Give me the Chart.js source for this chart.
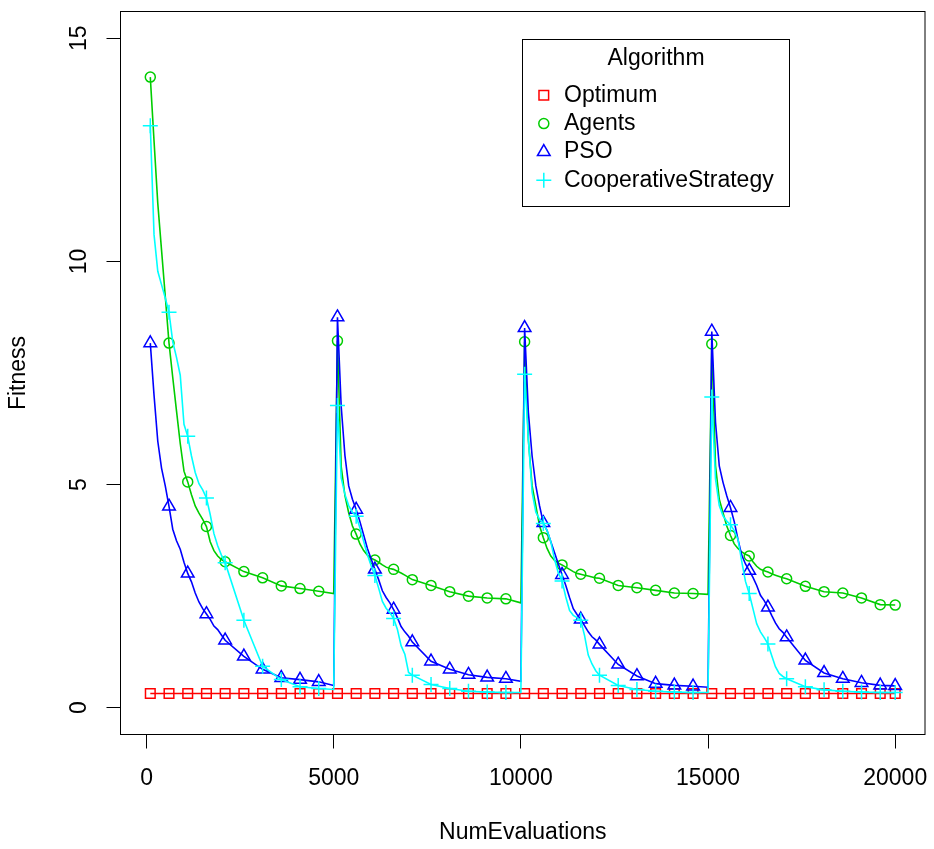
<!DOCTYPE html>
<html>
<head>
<meta charset="utf-8">
<script src="https://cdn.jsdelivr.net/npm/chart.js@4/dist/chart.umd.min.js"></script>
<style>
html,body{margin:0;padding:0;background:#fff;}
#wrap{width:934px;height:849px;position:relative;}
canvas{display:block;}
</style>
</head>
<body>
<div id="wrap"><canvas id="c" width="934" height="849"></canvas></div>
<script>
// ---------- data ----------
const evaluations = [
  100,200,300,400,500,600,700,800,900,1000,1100,1200,1300,1400,1500,1600,1700,1800,1900,2000,2100,2600,3100,3600,4100,4600,5000,
  5100,5200,5300,5400,5500,5600,5700,5800,5900,6000,6100,6200,6300,6400,6500,6600,6700,6800,6900,7000,7100,7600,8100,8600,9100,9600,10000,
  10100,10200,10300,10400,10500,10600,10700,10800,10900,11000,11100,11200,11300,11400,11500,11600,11700,11800,11900,12000,12100,12600,13100,13600,14100,14600,15000,
  15100,15200,15300,15400,15500,15600,15700,15800,15900,16000,16100,16200,16300,16400,16500,16600,16700,16800,16900,17000,17100,17600,18100,18600,19100,19600,20000
];

const optimum = [
  0.32,0.32,0.32,0.32,0.32,0.32,0.32,0.32,0.32,0.32,0.32,0.32,0.32,0.32,0.32,0.32,0.32,0.32,0.32,0.32,0.32,0.32,0.32,0.32,0.32,0.32,0.32,
  0.32,0.32,0.32,0.32,0.32,0.32,0.32,0.32,0.32,0.32,0.32,0.32,0.32,0.32,0.32,0.32,0.32,0.32,0.32,0.32,0.32,0.32,0.32,0.32,0.32,0.32,0.32,
  0.32,0.32,0.32,0.32,0.32,0.32,0.32,0.32,0.32,0.32,0.32,0.32,0.32,0.32,0.32,0.32,0.32,0.32,0.32,0.32,0.32,0.32,0.32,0.32,0.32,0.32,0.32,
  0.32,0.32,0.32,0.32,0.32,0.32,0.32,0.32,0.32,0.32,0.32,0.32,0.32,0.32,0.32,0.32,0.32,0.32,0.32,0.32,0.32,0.32,0.32,0.32,0.32,0.32,0.32
];

const agents = [
  14.13,12.7,11.3,10.26,9.22,8.17,7.4,6.65,5.92,5.3,5.06,4.77,4.52,4.36,4.22,4.06,3.72,3.52,3.4,3.32,3.27,3.05,2.91,2.73,2.67,2.61,2.56,
  8.22,5.4,4.75,4.37,4.07,3.89,3.67,3.52,3.42,3.35,3.31,3.26,3.2,3.15,3.12,3.1,3.06,3.02,2.97,2.92,2.87,2.74,2.6,2.5,2.46,2.44,2.35,
  8.2,6.0,4.97,4.52,4.07,3.81,3.57,3.4,3.3,3.24,3.2,3.15,3.1,3.05,3.01,2.99,2.97,2.95,2.93,2.91,2.9,2.74,2.69,2.63,2.57,2.56,2.54,
  8.15,5.42,4.67,4.37,4.07,3.86,3.67,3.57,3.49,3.44,3.4,3.27,3.17,3.1,3.07,3.04,3.0,2.97,2.94,2.91,2.89,2.72,2.6,2.57,2.46,2.31,2.3
];

const pso = [
  8.17,7.0,5.97,5.37,4.97,4.51,4.0,3.74,3.55,3.26,3.01,2.82,2.57,2.37,2.22,2.1,1.98,1.83,1.75,1.63,1.51,1.15,0.86,0.67,0.63,0.58,0.5,
  8.75,6.75,5.65,4.97,4.67,4.44,4.17,3.87,3.57,3.33,3.1,2.87,2.62,2.47,2.35,2.2,2.02,1.82,1.7,1.6,1.47,1.04,0.86,0.74,0.68,0.65,0.59,
  8.51,6.62,5.64,4.97,4.52,4.14,3.97,3.72,3.47,3.22,2.98,2.74,2.47,2.22,2.09,1.98,1.84,1.7,1.59,1.52,1.42,0.97,0.71,0.54,0.5,0.48,0.46,
  8.43,6.39,5.42,5.05,4.75,4.48,4.17,3.77,3.42,3.22,3.07,2.92,2.74,2.52,2.4,2.25,2.07,1.9,1.77,1.69,1.58,1.06,0.78,0.65,0.56,0.5,0.49
];

const cooperative = [
  13.04,10.6,9.78,9.48,9.18,8.86,8.2,7.85,7.45,6.35,6.08,5.64,5.27,5.02,4.88,4.7,4.33,3.9,3.63,3.42,3.25,1.96,0.93,0.63,0.47,0.43,0.41,
  6.77,5.15,4.78,4.53,4.38,4.29,4.03,3.73,3.43,3.18,2.96,2.68,2.38,2.23,2.13,2.0,1.76,1.39,1.2,0.79,0.73,0.52,0.43,0.37,0.35,0.34,0.34,
  7.47,6.02,4.83,4.38,4.22,4.13,3.97,3.72,3.32,3.02,2.84,2.48,2.18,2.07,2.02,1.96,1.62,1.18,0.98,0.83,0.73,0.5,0.41,0.37,0.35,0.34,0.34,
  6.96,5.12,4.53,4.3,4.18,4.1,3.97,3.77,3.28,2.83,2.56,2.22,1.88,1.7,1.57,1.43,1.17,0.92,0.77,0.7,0.65,0.47,0.4,0.37,0.35,0.34,0.34
];

const seriesNames = ['Optimum', 'Agents', 'PSO', 'CooperativeStrategy'];
const xTickValues = [0, 5000, 10000, 15000, 20000];
const yTickValues = [0, 5, 10, 15];
const legendTitle = 'Algorithm';
const xTitle = 'NumEvaluations';
const yTitle = 'Fitness';

// ---------- styling ----------
const FONT_FAMILY = '"Liberation Sans", Arial, Helvetica, sans-serif';
const FONT_SIZE = 23;
const seriesColors = ['#FF0000', '#00CD00', '#0000FF', '#00FFFF'];
const seriesStyles = ['rect', 'circle', 'triangle', 'cross'];
const seriesRadius = [6.8, 5, 7.3, 7.5];
const seriesValues = [optimum, agents, pso, cooperative];
const isMarker = x => (x % 500 === 100) || x === 20000;

// R-style axis extents (data range padded by 4 %)
const X_MIN = -696, X_MAX = 20796;
const Y_MIN = -0.6, Y_MAX = 15.6;

const datasets = seriesNames.map((name, k) => ({
  label: name,
  data: evaluations.map((x, i) => ({ x: x, y: seriesValues[k][i] })),
  borderColor: seriesColors[k],
  backgroundColor: 'rgba(0,0,0,0)',
  borderWidth: 1.6,
  tension: 0,
  fill: false,
  pointStyle: seriesStyles[k],
  pointRadius: c => (c.raw && isMarker(c.raw.x)) ? seriesRadius[k] : 0,
  pointHoverRadius: c => (c.raw && isMarker(c.raw.x)) ? seriesRadius[k] : 0,
  pointBorderColor: seriesColors[k],
  pointBackgroundColor: 'rgba(0,0,0,0)',
  pointBorderWidth: 1.5,
  order: 4 - k
}));

function fallbackPoint(ctx, style, r, x, y) {
  ctx.beginPath();
  if (style === 'rect') {
    const s = Math.SQRT1_2 * r; ctx.rect(x - s, y - s, 2 * s, 2 * s);
  } else if (style === 'circle') {
    ctx.arc(x, y, r, 0, Math.PI * 2);
  } else if (style === 'triangle') {
    ctx.moveTo(x, y - r);
    ctx.lineTo(x + 0.866 * r, y + r / 2);
    ctx.lineTo(x - 0.866 * r, y + r / 2);
    ctx.closePath();
  } else {
    ctx.moveTo(x - r, y); ctx.lineTo(x + r, y);
    ctx.moveTo(x, y - r); ctx.lineTo(x, y + r);
  }
  ctx.stroke();
}

const boxPlugin = {
  id: 'rbox',
  afterDatasetsDraw(chart) {
    const { ctx, chartArea: a } = chart;
    ctx.save();
    ctx.strokeStyle = '#000';
    ctx.lineWidth = 1;
    ctx.strokeRect(a.left, a.top, a.right - a.left, a.bottom - a.top);
    ctx.restore();
  }
};

const legendPlugin = {
  id: 'rlegend',
  afterDraw(chart) {
    const ctx = chart.ctx;
    ctx.save();
    ctx.strokeStyle = '#000';
    ctx.lineWidth = 1;
    ctx.strokeRect(522.5, 39.5, 267, 167);
    ctx.fillStyle = '#000';
    ctx.font = FONT_SIZE + 'px ' + FONT_FAMILY;
    ctx.textBaseline = 'middle';
    ctx.textAlign = 'center';
    ctx.fillText(legendTitle, 656, 58.5);
    ctx.textAlign = 'left';
    chart.data.datasets.forEach((ds, k) => {
      const y = 95.3 + k * 28.3;
      ctx.strokeStyle = ds.borderColor;
      ctx.fillStyle = 'rgba(0,0,0,0)';
      ctx.lineWidth = ds.pointBorderWidth;
      if (Chart.helpers && Chart.helpers.drawPoint) {
        Chart.helpers.drawPoint(ctx, { pointStyle: ds.pointStyle, radius: seriesRadius[k], rotation: 0, borderWidth: ds.pointBorderWidth }, 543.8, y);
      } else {
        fallbackPoint(ctx, ds.pointStyle, seriesRadius[k], 543.8, y);
      }
      ctx.fillStyle = '#000';
      ctx.fillText(ds.label, 564, y);
    });
    ctx.restore();
  }
};

const axisFont = { family: FONT_FAMILY, size: FONT_SIZE, weight: 'normal' };
const zeroPad = s => { s.paddingLeft = 0; s.paddingRight = 0; s.paddingTop = 0; s.paddingBottom = 0; };

new Chart(document.getElementById('c'), {
  type: 'line',
  data: { datasets: datasets },
  options: {
    responsive: false,
    animation: false,
    devicePixelRatio: 1,
    events: [],
    layout: { padding: { left: 0, top: 11.5, right: 5.5, bottom: 0 } },
    plugins: { legend: { display: false }, tooltip: { enabled: false } },
    scales: {
      x: {
        type: 'linear',
        min: X_MIN,
        max: X_MAX,
        afterBuildTicks: s => { s.ticks = xTickValues.map(v => ({ value: v })); },
        afterFit: s => { s.height = 114.5; zeroPad(s); },
        border: { display: false },
        grid: { display: true, drawOnChartArea: false, drawTicks: true, tickLength: 14, color: '#000', lineWidth: 1 },
        ticks: { autoSkip: false, minRotation: 0, maxRotation: 0, padding: 16, color: '#000', font: axisFont, callback: v => String(v) },
        title: { display: true, text: xTitle, color: '#000', font: axisFont, padding: { top: 0, bottom: 3 } }
      },
      y: {
        type: 'linear',
        min: Y_MIN,
        max: Y_MAX,
        afterBuildTicks: s => { s.ticks = yTickValues.map(v => ({ value: v })); },
        afterFit: s => { s.width = 120.5; zeroPad(s); },
        border: { display: false },
        grid: { display: true, drawOnChartArea: false, drawTicks: true, tickLength: 14, color: '#000', lineWidth: 1 },
        ticks: { autoSkip: false, minRotation: 90, maxRotation: 90, crossAlign: 'center', padding: 14.5, color: '#000', font: axisFont, callback: v => String(v) },
        title: { display: true, text: yTitle, color: '#000', font: axisFont, padding: { top: 5, bottom: 0 } }
      }
    }
  },
  plugins: [boxPlugin, legendPlugin]
});
</script>
</body>
</html>
